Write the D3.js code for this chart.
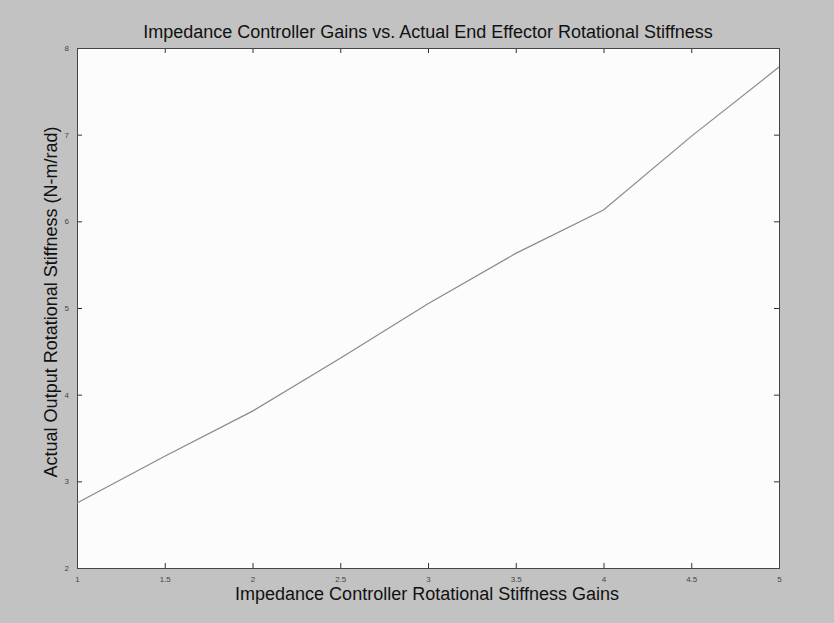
<!DOCTYPE html>
<html>
<head>
<meta charset="utf-8">
<script src="https://cdn.jsdelivr.net/npm/d3@7"></script>
<style>
  html, body { margin: 0; padding: 0; background: #c2c2c2; }
  svg { display: block; font-family: 'Liberation Sans', Arial, sans-serif; }
</style>
</head>
<body>
<svg id="chart"></svg>
<script>
const gains = [1, 1.5, 2, 2.5, 3, 3.5, 4, 4.5, 5]
const stiffness = [2.75, 3.29, 3.81, 4.42, 5.05, 5.63, 6.13, 6.98, 7.78]
const xTicks = [1, 1.5, 2, 2.5, 3, 3.5, 4, 4.5, 5]
const yTicks = [2, 3, 4, 5, 6, 7, 8]

const width = 834
const height = 623
const margin = { top: 48, right: 55, bottom: 55, left: 77 }
const innerW = width - margin.left - margin.right
const innerH = height - margin.top - margin.bottom

const svg = d3.select('#chart').attr('width', width).attr('height', height)

const g = svg.append('g').attr('transform', `translate(${margin.left},${margin.top})`)

const x = d3.scaleLinear().domain([1, 5]).range([0, innerW])
const y = d3.scaleLinear().domain([2, 8]).range([innerH, 0])

g.append('rect')
  .attr('width', innerW)
  .attr('height', innerH)
  .attr('fill', '#fcfcfc')

const tickLen = 5

// axes with inward ticks on all four sides (matlab style)
function styleAxis(sel, showLabels) {
  sel.select('.domain').remove()
  sel.selectAll('line').attr('stroke', '#333')
  sel.selectAll('text')
    .attr('fill', '#444')
    .style('font-size', '8px')
    .style('display', showLabels ? null : 'none')
}

g.append('g')
  .attr('transform', `translate(0,${innerH})`)
  .call(d3.axisBottom(x).tickValues(xTicks).tickSize(-tickLen).tickPadding(tickLen + 3).tickFormat(d3.format('')))
  .call((s) => styleAxis(s, true))

g.append('g')
  .call(d3.axisTop(x).tickValues(xTicks).tickSize(-tickLen).tickFormat(''))
  .call((s) => styleAxis(s, false))

g.append('g')
  .call(d3.axisLeft(y).tickValues(yTicks).tickSize(-tickLen).tickPadding(tickLen + 3).tickFormat(d3.format('d')))
  .call((s) => styleAxis(s, true))

g.append('g')
  .attr('transform', `translate(${innerW},0)`)
  .call(d3.axisRight(y).tickValues(yTicks).tickSize(-tickLen).tickFormat(''))
  .call((s) => styleAxis(s, false))

g.append('rect')
  .attr('x', 0.5)
  .attr('y', 0.5)
  .attr('width', innerW)
  .attr('height', innerH)
  .attr('fill', 'none')
  .attr('stroke', '#444')

const line = d3.line()
  .x((d, i) => x(gains[i]))
  .y((d) => y(d))

g.append('path')
  .datum(stiffness)
  .attr('fill', 'none')
  .attr('stroke', '#8a8a8a')
  .attr('stroke-width', 1.2)
  .attr('d', line)

svg.append('text')
  .attr('x', margin.left + innerW / 2)
  .attr('y', 38)
  .attr('text-anchor', 'middle')
  .attr('fill', '#111')
  .style('font-size', '18px')
  .text('Impedance Controller Gains vs. Actual End Effector Rotational Stiffness')

svg.append('text')
  .attr('x', margin.left + innerW / 2 - 1)
  .attr('y', 600)
  .attr('text-anchor', 'middle')
  .attr('fill', '#111')
  .style('font-size', '18px')
  .text('Impedance Controller Rotational Stiffness Gains')

svg.append('text')
  .attr('transform', `translate(57,${margin.top + innerH / 2 - 6}) rotate(-90)`)
  .attr('text-anchor', 'middle')
  .attr('fill', '#111')
  .style('font-size', '18px')
  .text('Actual Output Rotational Stiffness (N-m/rad)')
</script>
</body>
</html>
